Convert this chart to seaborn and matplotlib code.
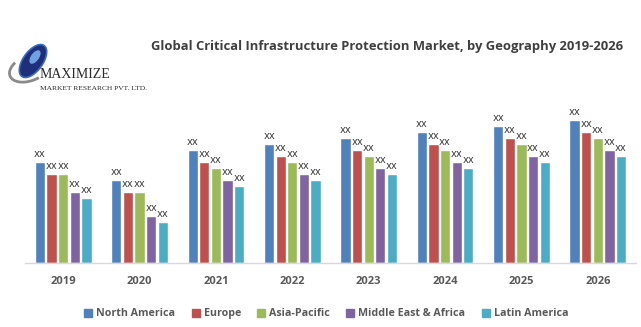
import matplotlib
matplotlib.use("Agg")
import matplotlib.pyplot as plt
from matplotlib.patches import Ellipse, Arc
import seaborn as sns
import pandas as pd

years = ["2019", "2020", "2021", "2022", "2023", "2024", "2025", "2026"]
regions = ["North America", "Europe", "Asia-Pacific", "Middle East & Africa", "Latin America"]
north_america = [101, 83, 113, 119, 125, 131, 137, 143]
europe = [89, 71, 101, 107, 113, 119, 125, 131]
asia_pacific = [89, 71, 95, 101, 107, 113, 119, 125]
middle_east_africa = [71, 47, 83, 89, 95, 101, 107, 113]
latin_america = [65, 41, 77, 83, 89, 95, 101, 107]
colors = ["#4F81BD", "#C0504D", "#9BBB59", "#8064A2", "#4BACC6"]
title = "Global Critical Infrastructure Protection Market, by Geography 2019-2026"

series = [north_america, europe, asia_pacific, middle_east_africa, latin_america]
df = pd.DataFrame(
    [(y, r, v) for r, vals in zip(regions, series) for y, v in zip(years, vals)],
    columns=["Year", "Region", "Value"],
)

sns.set_theme(style="white")
plt.rcParams["font.family"] = ["Open Sans", "DejaVu Sans"]

fig = plt.figure(figsize=(6.41, 3.27), dpi=100)
ax = fig.add_axes([25 / 641, 64 / 327, 611 / 641, 160 / 327])

sns.barplot(data=df, x="Year", y="Value", hue="Region", hue_order=regions,
            palette=colors, width=0.76, gap=0.12, saturation=1,
            errorbar=None, legend=False, ax=ax)

for cont in ax.containers:
    ax.bar_label(cont, labels=["xx"] * len(cont), padding=2,
                 fontsize=7.2, color="#404040", family="DejaVu Sans")

ax.set_xlim(-0.5, 7.5)
ax.set_ylim(0, 160)
ax.set_yticks([])
ax.set_xlabel("")
ax.set_ylabel("")
for s in ["top", "right", "left"]:
    ax.spines[s].set_visible(False)
ax.spines["bottom"].set_color("#D9D9D9")
ax.spines["bottom"].set_linewidth(1)
ax.tick_params(axis="x", length=0, pad=9)
for t in ax.get_xticklabels():
    t.set_fontsize(8)
    t.set_fontweight("bold")
    t.set_color("#595959")

# legend with square markers
handles = [plt.Line2D([], [], marker="s", linestyle="", markersize=5.5,
                      markerfacecolor=c, markeredgecolor=c) for c in colors]
fig.legend(handles, regions, loc="center", bbox_to_anchor=(0.508, 0.04),
           ncol=5, frameon=False, handletextpad=0.25, columnspacing=1.4,
           handlelength=1.0, prop={"size": 7.7, "weight": "bold"},
           labelcolor="#595959")

# title
fig.text(0.604, 0.859, title, ha="center", va="center", fontsize=9.4,
         fontweight="bold", color="#3F3F3F")

# company logo
fig.patches.append(Arc((30 / 641, 1 - 68 / 327), 36 / 641, 30 / 327, angle=-25,
                       theta1=170, theta2=320, color="#8A8A8A", linewidth=2,
                       transform=fig.transFigure, zorder=2))
fig.patches.append(Ellipse((33 / 641, 1 - 61 / 327), 22 / 641, 34 / 327,
                           angle=-15, facecolor="#1F2F7A", edgecolor="#3A6CC0",
                           linewidth=1.2, transform=fig.transFigure, zorder=3))
fig.patches.append(Ellipse((35 / 641, 1 - 57 / 327), 9 / 641, 14 / 327,
                           angle=-15, facecolor="#6FA0E0", edgecolor="none",
                           transform=fig.transFigure, zorder=4))
fig.text(40 / 641, 1 - 75 / 327, "MAXIMIZE", fontsize=10, family="Liberation Serif",
         color="#2A2A2A", ha="left", va="center", zorder=5)
fig.text(40 / 641, 1 - 88.5 / 327, "MARKET RESEARCH PVT. LTD.", fontsize=5.4,
         family="Liberation Serif", color="#2A2A2A", ha="left", va="center")

fig.savefig("out.png", dpi=100)
